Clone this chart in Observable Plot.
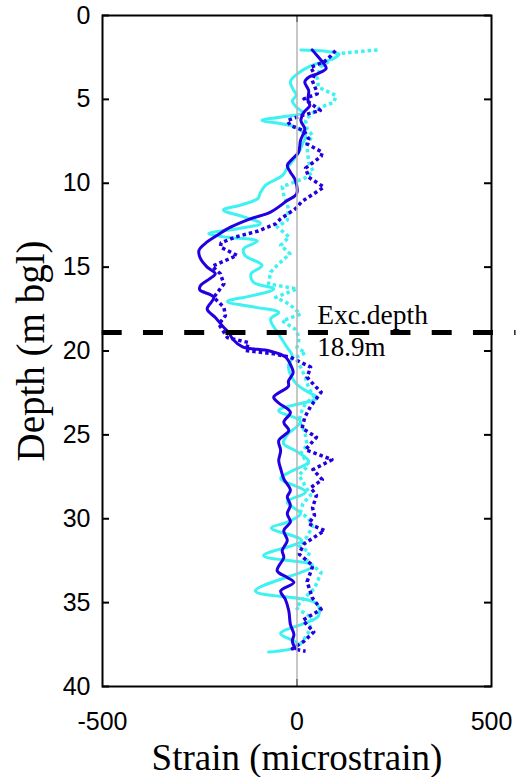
<!DOCTYPE html>
<html><head><meta charset="utf-8">
<script src="https://cdn.jsdelivr.net/npm/d3@7"></script>
<script src="https://cdn.jsdelivr.net/npm/@observablehq/plot@0.6"></script>
<style>body{margin:0;background:#fff} #chart svg{display:block}</style>
</head><body><div id="chart"></div>
<script>
// ---- data ----
const xTicks = [-500, 0, 500];
const yTicks = [0, 5, 10, 15, 20, 25, 30, 35, 40];
const xLabel = "Strain (microstrain)";
const yLabel = "Depth (m bgl)";
const excDepth = 18.9;
const excLabel = "Exc.depth";

// cyan solid
const cyanSolidDepth = [2.05,2.12,2.3,2.55,3.0,3.5,3.95,4.4,4.75,5.1,5.5,5.8,6.05,6.25,6.45,6.7,7.2,7.6,8.0,8.45,9.1,9.55,10.1,10.6,10.9,11.3,11.6,12.0,12.4,12.7,13.0,13.2,13.45,13.9,14.3,14.9,15.4,15.9,16.3,16.7,17.05,17.4,17.7,18.1,19.0,19.8,20.3,20.9,21.4,22.0,22.4,22.8,23.55,24.2,25.0,25.5,26.0,26.6,27.2,27.6,28.4,29.0,29.7,30.2,30.55,31.3,32.2,32.8,34.3,35.05,35.8,36.85,37.4,37.65,37.95];
const cyanSolidStrain = [10,70,108,95,35,0,-17,-10,-2,-12,0,15,-40,-90,-40,0,22,15,8,-4,-25,-38,-80,-95,-100,-145,-189,-137,-94,-150,-227,-185,-102,-137,-134,-90,-118,-112,-60,-115,-179,-105,-47,-68,-47,-25,-12,-22,-17,0,25,52,-47,9,-25,-35,0,30,-17,-42,22,-25,9,-25,-66,12,-86,40,-107,50,55,-42,0,-4,-73];

// cyan dotted
const cyanDotDepth = [2.05,2.27,2.6,3.08,3.68,4.27,4.77,5.17,5.47,5.9,6.26,6.75,7.15,7.7,8.3,8.75,9.3,9.7,10.2,10.7,11.2,11.6,12.2,12.6,13.2,13.7,14.2,14.8,15.3,16.0,16.3,16.8,17.2,17.8,18.2,18.7,19.2,19.8,20.1,20.4,21.0,21.6,22.2,22.7,23.2,23.7,24.2,24.8,25.6,26.1,26.8,27.4,28.0,28.6,29.1,29.6,30.0,30.45,31.1,31.6,32.0,32.5,33.2,34.15,34.7,35.3,35.9,36.5,36.85,37.2,37.65];
const cyanDotStrain = [207,107,90,60,52,55,100,95,60,35,22,26,40,25,28,30,42,20,-38,-34,-25,-22,-25,-51,-20,-42,-18,-47,-68,-73,0,-55,-20,9,-38,-5,6,0,22,-4,10,22,30,43,20,10,5,20,26,10,30,5,20,35,15,9,30,40,25,4,32,25,62,45,20,-3,38,33,28,17,3];

// blue solid
const blueSolidDepth = [2.05,2.4,2.85,3.15,3.45,3.68,3.97,4.47,5.07,5.37,5.76,6.26,6.76,7.45,8.15,8.55,8.94,9.34,9.84,10.63,11.03,11.72,12.12,12.62,13.1,13.5,14.0,14.5,15.0,15.4,15.7,16.1,16.35,16.8,17.5,18.0,18.6,18.9,19.3,19.75,20.0,20.35,20.9,21.3,21.8,22.1,22.75,23.1,23.65,24.25,24.74,25.34,25.93,26.53,27.02,27.62,28.3,28.7,29.2,29.7,30.2,30.7,31.3,31.9,32.3,33.1,33.5,33.8,34.3,34.8,35.5,36.3,36.9,37.3,37.75];
const blueSolidStrain = [39,52,68,75,55,30,20,30,28,33,18,10,20,9,4,-12,-25,-17,-4,-1,-25,-68,-120,-171,-205,-231,-252,-248,-231,-210,-225,-248,-250,-214,-231,-210,-188,-175,-165,-140,-70,-30,-15,-10,-22,-22,-60,-47,-17,-34,-21,-47,-42,-47,-42,-34,-17,-25,-17,-25,-17,-34,-25,-38,-34,-51,-25,-8,-42,-30,-21,-17,-8,-12,-4];

// blue dotted
const blueDotDepth = [2.09,2.45,2.78,3.08,3.5,3.87,4.37,4.67,4.97,5.37,5.66,5.96,6.26,6.56,6.86,7.35,7.66,8.15,8.4,9.1,9.64,10.23,11.1,11.52,12.12,12.42,12.85,13.2,13.55,13.8,14.3,14.95,15.4,16.0,16.8,17.4,17.9,18.4,19.2,19.5,19.97,20.17,20.37,20.96,21.56,22.06,22.45,23.3,23.95,24.6,25.14,25.88,26.48,27.07,27.67,28.15,28.6,29.35,29.8,30.3,30.7,31.5,32.1,32.8,33.75,34.7,35.4,36.05,36.75,37.3,37.75,37.9];
const blueDotStrain = [99,85,69,35,45,39,48,52,18,43,60,13,-25,-17,18,30,26,65,62,22,30,69,12,-4,-42,-55,-100,-158,-195,-197,-154,-218,-197,-188,-214,-188,-184,-201,-179,-124,-132,-60,-17,35,26,45,62,35,20,13,50,22,90,41,65,35,50,40,45,30,71,18,5,41,26,39,62,15,43,18,-12,22];

// ---- build tables ----
const table = (depth, strain) => depth.map((d, i) => ({depth: d, strain: strain[i]}));
const cyanSolid = table(cyanSolidDepth, cyanSolidStrain);
const cyanDot = table(cyanDotDepth, cyanDotStrain);
const blueSolid = table(blueSolidDepth, blueSolidStrain);
const blueDot = table(blueDotDepth, blueDotStrain);

const CYAN = "#3ef2f2";
const BLUE = "#2200e0";
const serif = "'Liberation Serif', 'Times New Roman', serif";
const sans = "'Liberation Sans', Arial, sans-serif";

const chart = Plot.plot({
  width: 521,
  height: 777,
  marginLeft: 102,
  marginRight: 30,
  marginTop: 15,
  marginBottom: 91,
  style: {background: "#fff", color: "#000", overflow: "visible"},
  x: {domain: [xTicks[0], xTicks[xTicks.length - 1]]},
  y: {domain: [yTicks[0], yTicks[yTicks.length - 1]], reverse: true},
  marks: [
    Plot.axisX(xTicks, {tickSize: 0, tickPadding: 26, fontSize: 25, fontFamily: sans, tickFormat: d => String(d), label: null}),
    Plot.axisY(yTicks, {tickSize: 0, tickPadding: 12, fontSize: 25, fontFamily: sans, tickFormat: d => String(d), label: null}),
    Plot.line(cyanSolid, {x: "strain", y: "depth", stroke: CYAN, strokeWidth: 3, curve: "catmull-rom"}),
    Plot.line(cyanDot, {x: "strain", y: "depth", stroke: CYAN, strokeWidth: 3.5, strokeDasharray: "3.5,3", strokeLinecap: "butt"}),
    Plot.line(blueSolid, {x: "strain", y: "depth", stroke: BLUE, strokeWidth: 3, curve: "catmull-rom"}),
    Plot.line(blueDot, {x: "strain", y: "depth", stroke: BLUE, strokeWidth: 3.5, strokeDasharray: "3.5,3", strokeLinecap: "butt"}),
    Plot.ruleX([0], {stroke: "#b4b4b4", strokeWidth: 1.5}),
    Plot.ruleX([0], {y1: yTicks[0], y2: yTicks[0], insetBottom: -7, stroke: "#808080", strokeWidth: 2}),
    Plot.ruleX([0], {y1: yTicks[yTicks.length - 1], y2: yTicks[yTicks.length - 1], insetTop: -7, stroke: "#808080", strokeWidth: 2}),
    Plot.ruleY(yTicks, {x1: xTicks[0], x2: xTicks[0], insetRight: -7, stroke: "#000", strokeWidth: 2}),
    Plot.ruleY(yTicks, {x1: xTicks[2], x2: xTicks[2], insetLeft: -7, stroke: "#000", strokeWidth: 2}),
    Plot.ruleY([excDepth], {x1: -510, x2: 563, stroke: "#000", strokeWidth: 5, strokeDasharray: "20,21.25", strokeDashoffset: -3.6}),
    Plot.text([excLabel], {x: 52, y: () => excDepth, text: d => d, textAnchor: "start", lineAnchor: "bottom", dy: -9, fontFamily: serif, fontSize: 27.5, fill: "#000"}),
    Plot.text([`${excDepth}m`], {x: 52, y: () => excDepth, text: d => d, textAnchor: "start", lineAnchor: "bottom", dy: 23, fontFamily: serif, fontSize: 27, fill: "#000"}),
    Plot.text([xLabel], {frameAnchor: "bottom", text: d => d, textAnchor: "middle", lineAnchor: "bottom", dy: 83, fontFamily: serif, fontSize: 37, fill: "#000"}),
    Plot.text([yLabel], {frameAnchor: "left", text: d => d, rotate: -90, textAnchor: "middle", lineAnchor: "bottom", dx: -59, fontFamily: serif, fontSize: 39, fill: "#000"}),
    Plot.frame({stroke: "#000", strokeWidth: 2})
  ]
});
document.getElementById("chart").appendChild(chart);
</script>
</body></html>
